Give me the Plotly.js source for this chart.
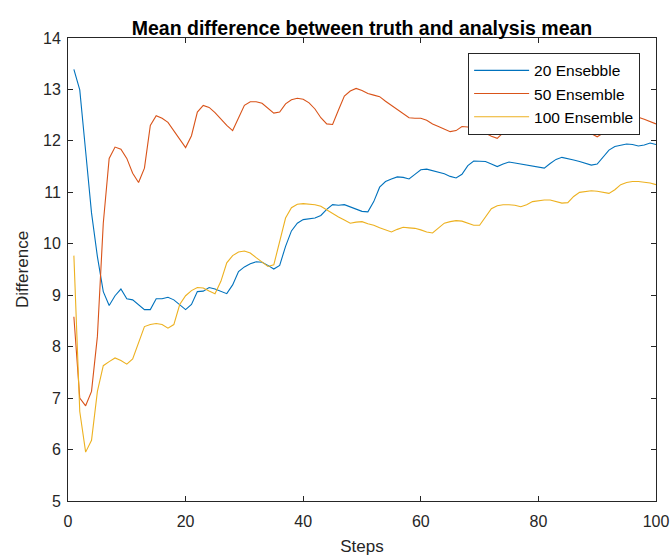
<!DOCTYPE html>
<html>
<head>
<meta charset="utf-8">
<script src="https://cdn.plot.ly/plotly-3.0.1.min.js"></script>
<style>html,body{margin:0;padding:0;background:#fff;}#chart{width:670px;height:558px;}</style>
</head>
<body>
<div id="chart"></div>
<script>
const steps = Array.from({length: 100}, (_, i) => i + 1);

const ens20 = [13.39,12.99,11.8,10.6,9.75,9.07,8.80,8.99,9.12,8.93,
8.91,8.82,8.72,8.72,8.93,8.93,8.96,8.91,8.82,8.72,
8.82,9.07,9.08,9.15,9.12,9.08,9.03,9.20,9.46,9.55,
9.61,9.65,9.64,9.58,9.51,9.58,9.95,10.25,10.40,10.47,
10.49,10.50,10.55,10.67,10.76,10.75,10.76,10.72,10.68,10.63,
10.62,10.82,11.10,11.21,11.26,11.30,11.29,11.26,11.35,11.44,
11.45,11.42,11.40,11.36,11.31,11.28,11.35,11.52,11.61,11.61,
11.60,11.55,11.50,11.55,11.59,11.57,11.55,11.53,11.51,11.48,
11.47,11.56,11.64,11.68,11.66,11.63,11.60,11.57,11.53,11.55,
11.68,11.82,11.89,11.92,11.94,11.93,11.90,11.92,11.96,11.93];

const ens50 = [8.58,7.0,6.85,7.13,8.2,10.4,11.66,11.88,11.84,11.66,
11.37,11.19,11.47,12.3,12.49,12.44,12.36,12.20,12.03,11.87,
12.10,12.56,12.69,12.65,12.55,12.42,12.30,12.20,12.45,12.69,
12.76,12.76,12.73,12.63,12.54,12.56,12.72,12.80,12.83,12.81,
12.74,12.62,12.45,12.33,12.32,12.60,12.87,12.97,13.02,12.98,
12.92,12.89,12.86,12.77,12.69,12.61,12.52,12.45,12.44,12.44,
12.40,12.33,12.28,12.23,12.18,12.20,12.28,12.27,12.23,12.21,
12.15,12.09,12.05,12.16,12.27,12.30,12.30,12.26,12.22,12.21,
12.23,12.32,12.36,12.35,12.32,12.29,12.25,12.20,12.14,12.08,
12.15,12.45,12.60,12.62,12.58,12.52,12.46,12.42,12.37,12.33];

const ens100 = [9.77,6.74,5.95,6.18,7.13,7.63,7.71,7.78,7.73,7.66,
7.76,8.07,8.39,8.43,8.45,8.43,8.36,8.43,8.82,8.99,
9.09,9.15,9.14,9.08,9.03,9.27,9.63,9.77,9.84,9.86,
9.82,9.73,9.64,9.56,9.59,10.05,10.50,10.70,10.77,10.78,
10.77,10.76,10.73,10.66,10.58,10.52,10.46,10.40,10.42,10.43,
10.39,10.36,10.31,10.27,10.23,10.28,10.32,10.31,10.30,10.27,
10.23,10.21,10.30,10.40,10.43,10.45,10.44,10.40,10.36,10.36,
10.52,10.68,10.74,10.76,10.76,10.75,10.72,10.76,10.82,10.84,
10.85,10.85,10.82,10.79,10.80,10.92,11.00,11.02,11.03,11.02,
11.00,10.98,11.05,11.15,11.19,11.21,11.21,11.20,11.18,11.15];

const seriesNames = ['20 Ensebble', '50 Ensemble', '100 Ensemble'];
const seriesColors = ['#0072BD', '#D95319', '#EDB120'];
const seriesData = [ens20, ens50, ens100];

const traces = seriesData.map((ys, i) => ({
  x: steps, y: ys, type: 'scatter', mode: 'lines', name: seriesNames[i],
  line: {color: seriesColors[i], width: 1.1}
}));

const axisCommon = {
  showgrid: false, zeroline: false, showline: true, linecolor: '#262626', linewidth: 1,
  mirror: 'ticks', ticks: 'inside', ticklen: 5, tickcolor: '#262626',
  tickfont: {family: 'Liberation Sans, Arial, sans-serif', size: 16, color: '#262626'}
};

const layout = {
  width: 670, height: 558,
  margin: {l: 68, r: 14, t: 38, b: 57},
  paper_bgcolor: '#fff', plot_bgcolor: '#fff',
  font: {family: 'Liberation Sans, Arial, sans-serif', color: '#262626'},
  title: {text: '<b>Mean difference between truth and analysis mean</b>',
          font: {size: 19.5, color: '#000'}, x: 0.5, xref: 'paper', y: 1, yref: 'paper', yanchor: 'bottom', pad: {b: 3}},
  xaxis: Object.assign({}, axisCommon, {range: [0, 100], dtick: 20, tick0: 0, ticklabelstandoff: 6,
          title: {text: 'Steps', font: {size: 17, color: '#262626'}, standoff: 10}}),
  yaxis: Object.assign({}, axisCommon, {range: [5, 14], dtick: 1, tick0: 5, ticklabelstandoff: 3,
          title: {text: 'Difference', font: {size: 17, color: '#262626'}, standoff: 10}}),
  legend: {x: 0.973, y: 0.968, xanchor: 'right', yanchor: 'top', bgcolor: '#fff',
           bordercolor: '#262626', borderwidth: 1, itemwidth: 55,
           font: {size: 15.5, color: '#000'}, tracegroupgap: 0},
  showlegend: true
};

Plotly.newPlot('chart', traces, layout, {displayModeBar: false, staticPlot: true});
</script>
</body>
</html>
